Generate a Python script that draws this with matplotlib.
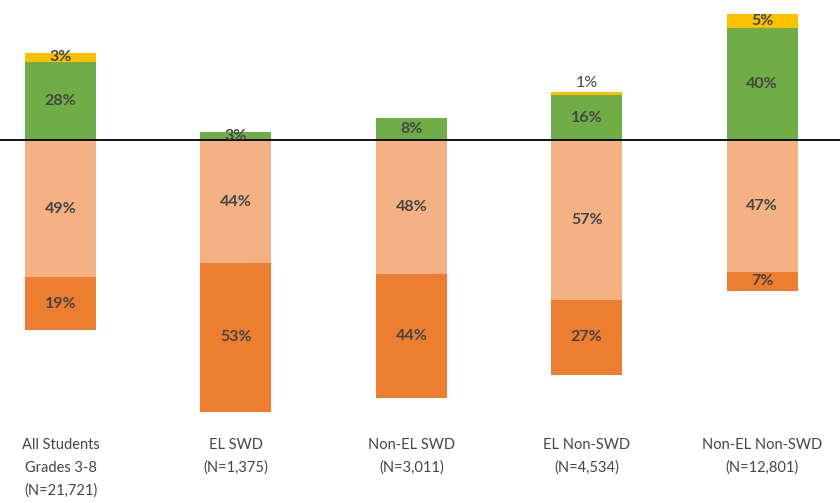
import matplotlib.pyplot as plt

plt.rcParams['font.family'] = ['Lato', 'DejaVu Sans']

groups = ["All Students\nGrades 3-8\n(N=21,721)", "EL SWD\n(N=1,375)", "Non-EL SWD\n(N=3,011)",
          "EL Non-SWD\n(N=4,534)", "Non-EL Non-SWD\n(N=12,801)"]
# above the line
proficient = [28, 3, 8, 16, 40]
advanced = [3, 0, 0, 1, 5]
# below the line
partial = [49, 44, 48, 57, 47]
below = [19, 53, 44, 27, 7]

c_adv = "#FFC000"
c_prof = "#70AD47"
c_part = "#F4B183"
c_below = "#ED7D31"
txt = "#454545"

fig = plt.figure(figsize=(8.4, 5.03), dpi=100)
ax = fig.add_axes([0, 0, 1, 1])

x = list(range(len(groups)))
w = 0.405
neg_part = [-v for v in partial]
neg_below = [-v for v in below]

ax.bar(x, proficient, w, color=c_prof)
ax.bar(x, advanced, w, bottom=proficient, color=c_adv)
ax.bar(x, neg_part, w, color=c_part)
ax.bar(x, neg_below, w, bottom=neg_part, color=c_below)

ax.axhline(0, color="black", lw=1.3)

for i in x:
    fs = 11.5
    ax.text(i, proficient[i] / 2, f"{proficient[i]}%", ha="center", va="center",
            fontsize=fs, color=txt, fontweight="bold")
    if advanced[i] >= 3:
        ax.text(i, proficient[i] + advanced[i] / 2, f"{advanced[i]}%", ha="center", va="center",
                fontsize=fs, color=txt, fontweight="bold")
    elif advanced[i] > 0:
        ax.text(i, proficient[i] + advanced[i] + 1, f"{advanced[i]}%", ha="center", va="bottom",
                fontsize=fs, color=txt)
    ax.text(i, -partial[i] / 2, f"{partial[i]}%", ha="center", va="center",
            fontsize=fs, color=txt, fontweight="bold")
    ax.text(i, -partial[i] - below[i] / 2, f"{below[i]}%", ha="center", va="center",
            fontsize=fs, color=txt, fontweight="bold")
    ax.text(i, -106.5, groups[i], ha="center", va="top", fontsize=10.5,
            color=txt, linespacing=1.75)

ax.set_xlim(-0.345, 4.444)
ax.set_ylim(-129.6, 50)
ax.axis("off")

fig.savefig("out.png", dpi=100, facecolor="white")
